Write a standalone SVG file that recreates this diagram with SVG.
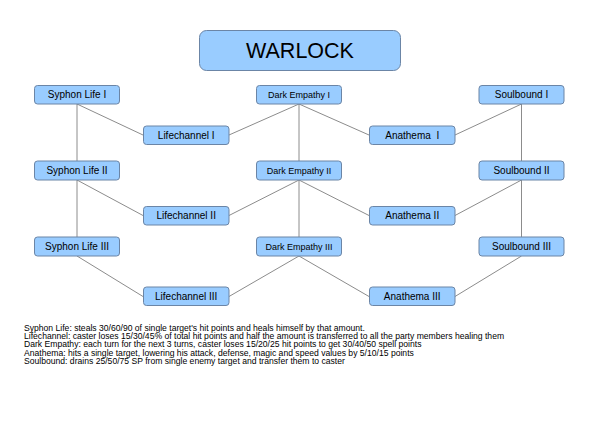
<svg xmlns="http://www.w3.org/2000/svg" width="599" height="424" viewBox="0 0 599 424">
<style>
.n rect{fill:#99ccff;stroke:#6b85a6;stroke-width:1}
.n text{font-family:"Liberation Sans",Arial,sans-serif;font-size:10px;fill:#000;text-anchor:middle}
.n text.s{font-size:9px}
#connectors line{stroke:#8c8c8c;stroke-width:1}
.d{font-family:"Liberation Sans",Arial,sans-serif;font-size:8.6px;fill:#000}
</style>
<rect width="599" height="424" fill="#fff"/>
<g id="connectors">
<line x1="77" y1="104" x2="143" y2="135"/>
<line x1="229" y1="135" x2="299" y2="104"/>
<line x1="299" y1="104" x2="369" y2="135"/>
<line x1="455" y1="135" x2="521.5" y2="104"/>
<line x1="77" y1="104" x2="77" y2="161"/>
<line x1="299" y1="104" x2="299" y2="161"/>
<line x1="521.5" y1="104" x2="521.5" y2="161"/>
<line x1="77" y1="180" x2="143" y2="215.5"/>
<line x1="229" y1="215.5" x2="299" y2="180"/>
<line x1="299" y1="180" x2="369" y2="215.5"/>
<line x1="455" y1="215.5" x2="521.5" y2="180"/>
<line x1="77" y1="180" x2="77" y2="237"/>
<line x1="299" y1="180" x2="299" y2="237"/>
<line x1="521.5" y1="180" x2="521.5" y2="237"/>
<line x1="77" y1="256" x2="143" y2="296.5"/>
<line x1="229" y1="296.5" x2="299" y2="256"/>
<line x1="299" y1="256" x2="369" y2="296.5"/>
<line x1="455" y1="296.5" x2="521.5" y2="256"/>
</g>
<g id="warlock" class="n"><rect x="199.5" y="30.5" width="201" height="40" rx="7"/><text x="300" y="57.5" style="font-size:21.5px">WARLOCK</text></g>
<g id="syphon1" class="n"><rect x="34.5" y="85.5" width="85" height="18.5" rx="3"/><text x="77" y="98">Syphon Life I</text></g>
<g id="dark1" class="n"><rect x="256.5" y="85.5" width="85" height="18.5" rx="3"/><text class="s" x="299" y="97.8">Dark Empathy I</text></g>
<g id="soul1" class="n"><rect x="479" y="85.5" width="85" height="18.5" rx="3"/><text x="521.5" y="98">Soulbound I</text></g>
<g id="life1" class="n"><rect x="143.5" y="126" width="85.5" height="18.5" rx="3"/><text x="186.2" y="138.7">Lifechannel I</text></g>
<g id="anat1" class="n"><rect x="369.5" y="126" width="85.5" height="18.5" rx="3"/><text x="412.2" y="138.7" style="white-space:pre">Anathema  I</text></g>
<g id="syphon2" class="n"><rect x="34.5" y="161" width="85" height="19" rx="3"/><text x="77" y="174">Syphon Life II</text></g>
<g id="dark2" class="n"><rect x="256.5" y="161" width="85" height="19" rx="3"/><text class="s" x="299" y="173.8">Dark Empathy II</text></g>
<g id="soul2" class="n"><rect x="479" y="161" width="85" height="19" rx="3"/><text x="521.5" y="174">Soulbound II</text></g>
<g id="life2" class="n"><rect x="143.5" y="206.5" width="85.5" height="18.5" rx="3"/><text x="186.2" y="219.3">Lifechannel II</text></g>
<g id="anat2" class="n"><rect x="369.5" y="206.5" width="85.5" height="18.5" rx="3"/><text x="412.2" y="219.3">Anathema II</text></g>
<g id="syphon3" class="n"><rect x="34.5" y="237" width="85" height="19" rx="3"/><text x="77" y="250">Syphon Life III</text></g>
<g id="dark3" class="n"><rect x="256.5" y="237" width="85" height="19" rx="3"/><text class="s" x="299" y="249.8">Dark Empathy III</text></g>
<g id="soul3" class="n"><rect x="479" y="237" width="85" height="19" rx="3"/><text x="521.5" y="250">Soulbound III</text></g>
<g id="life3" class="n"><rect x="143.5" y="287" width="85.5" height="18.5" rx="3"/><text x="186.2" y="300">Lifechannel III</text></g>
<g id="anat3" class="n"><rect x="369.5" y="287" width="85.5" height="18.5" rx="3"/><text x="412.2" y="300">Anathema III</text></g>
<g id="legend" class="d">
<text x="24" y="330.7">Syphon Life: steals 30/60/90 of single target's hit points and heals himself by that amount.</text>
<text x="24" y="339">Lifechannel: caster loses 15/30/45% of total hit points and half the amount is transferred to all the party members healing them</text>
<text x="24" y="347.3">Dark Empathy: each turn for the next 3 turns, caster loses 15/20/25 hit points to get 30/40/50 spell points</text>
<text x="24" y="355.6">Anathema: hits a single target, lowering his attack, defense, magic and speed values by 5/10/15 points</text>
<text x="24" y="364">Soulbound: drains 25/50/75 SP from single enemy target and transfer them to caster</text>
</g>
</svg>
